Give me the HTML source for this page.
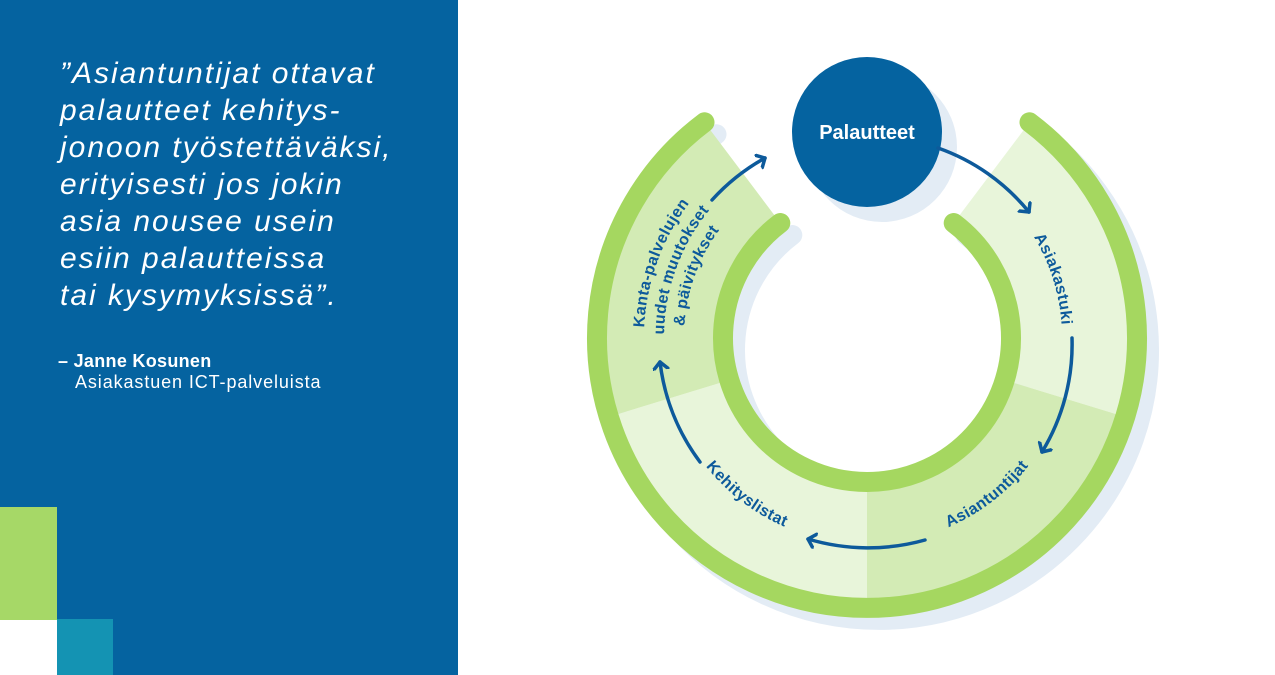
<!DOCTYPE html>
<html><head><meta charset="utf-8">
<style>
html,body{margin:0;padding:0;background:#fff;}
body{width:1275px;height:675px;position:relative;overflow:hidden;font-family:"Liberation Sans",sans-serif;}
#left{position:absolute;left:0;top:0;width:458px;height:675px;background:#0563a0;}
#g{position:absolute;left:0;top:507px;width:57px;height:113px;background:#a6d867;}
#w{position:absolute;left:0;top:620px;width:57px;height:55px;background:#fff;}
#t{position:absolute;left:57px;top:619px;width:56px;height:56px;background:#1493b3;}
#quote{position:absolute;left:60px;top:55px;color:#fff;font-style:italic;font-size:30px;line-height:37px;letter-spacing:2px;white-space:pre;}
#name{position:absolute;left:58px;top:351px;color:#fff;font-weight:bold;font-size:18px;letter-spacing:0.3px;}
#sub{position:absolute;left:75px;top:372px;color:#fff;font-size:18px;letter-spacing:0.9px;}
svg{position:absolute;left:0;top:0;}
</style></head><body>
<div id="left"></div>
<div id="g"></div><div id="w"></div><div id="t"></div>
<div id="quote">”Asiantuntijat ottavat
palautteet kehitys-
jonoon työstettäväksi,
erityisesti jos jokin
asia nousee usein
esiin palautteissa
tai kysymyksissä”.</div>
<div id="name">– Janne Kosunen</div>
<div id="sub">Asiakastuen ICT-palveluista</div>
<svg width="1275" height="675" viewBox="0 0 1275 675">
<defs>
<marker id="ah" markerUnits="userSpaceOnUse" markerWidth="20" markerHeight="20" refX="8" refY="8" orient="auto">
<path d="M1,1 L8,8 L1,15" fill="none" stroke="#0d5a9b" stroke-width="3.5" stroke-linecap="round" stroke-linejoin="round"/>
</marker>
<path id="p1" d="M992.4,188.6 A195,195 0 0 1 1055.4,388.5"/>
<path id="p2" d="M885,543.2 A206,206 0 0 0 1060.6,408.5"/>
<path id="p3" d="M673.4,408.5 A206,206 0 0 0 849,543.2"/>
<path id="k1" d="M651.6,395.8 A223,223 0 0 1 739,155.3"/>
<path id="k2" d="M670.9,390.5 A203,203 0 0 1 750.6,171.7"/>
<path id="k3" d="M690.2,385.4 A183,183 0 0 1 762,188.1"/>
</defs>
<g transform="translate(12,12)" fill="none" stroke="#e3ecf5" stroke-width="20" stroke-linecap="round">
<path d="M1029.5,122.3 A270,270 0 1 1 704.5,122.3"/>
<path d="M953.7,223 A144,144 0 1 1 780.3,223"/>
</g>
<circle cx="882" cy="147" r="75" fill="#e3ecf5"/>
<path d="M1029.5,122.3 A270,270 0 0 1 1125.2,416.9 L1004.7,380.1 A144,144 0 0 0 953.7,223 Z" fill="#e8f5da"/>
<path d="M1125.2,416.9 A270,270 0 0 1 867,608 L867,482 A144,144 0 0 0 1004.7,380.1 Z" fill="#d3ebb5"/>
<path d="M867,608 A270,270 0 0 1 608.8,416.9 L729.3,380.1 A144,144 0 0 0 867,482 Z" fill="#e8f5da"/>
<path d="M608.8,416.9 A270,270 0 0 1 704.5,122.3 L780.3,223 A144,144 0 0 0 729.3,380.1 Z" fill="#d3ebb5"/>
<g fill="none" stroke="#a5d760" stroke-width="20" stroke-linecap="round">
<path d="M1029.5,122.3 A270,270 0 1 1 704.5,122.3"/>
<path d="M953.7,223 A144,144 0 1 1 780.3,223"/>
</g>
<circle cx="867" cy="132" r="75" fill="#0563a0"/>
<text x="867" y="139" text-anchor="middle" fill="#fff" font-weight="bold" font-size="20" font-family="Liberation Sans, sans-serif">Palautteet</text>
<g fill="none" stroke="#0d5a9b" stroke-width="3.5" stroke-linecap="round" marker-end="url(#ah)">
<path d="M938,148 A204,204 0 0 1 1029,212"/>
<path d="M1072,338 A207,207 0 0 1 1042,452"/>
<path d="M925,540 A210,210 0 0 1 808,539"/>
<path d="M700,462 A208,208 0 0 1 660,362"/>
<path d="M712,200 A207,207 0 0 1 765,158"/>
</g>
<g fill="#0d5a9b" font-weight="bold" font-size="16" font-family="Liberation Sans, sans-serif" text-anchor="middle" letter-spacing="0.4">
<text><textPath href="#p1" startOffset="50%">Asiakastuki</textPath></text>
<text><textPath href="#p2" startOffset="50%">Asiantuntijat</textPath></text>
<text><textPath href="#p3" startOffset="50%">Kehityslistat</textPath></text>
<text><textPath href="#k1" startOffset="50%">Kanta-palvelujen</textPath></text>
<text><textPath href="#k2" startOffset="50%">uudet muutokset</textPath></text>
<text><textPath href="#k3" startOffset="50%">&amp; päivitykset</textPath></text>
</g>
</svg>
</body></html>
